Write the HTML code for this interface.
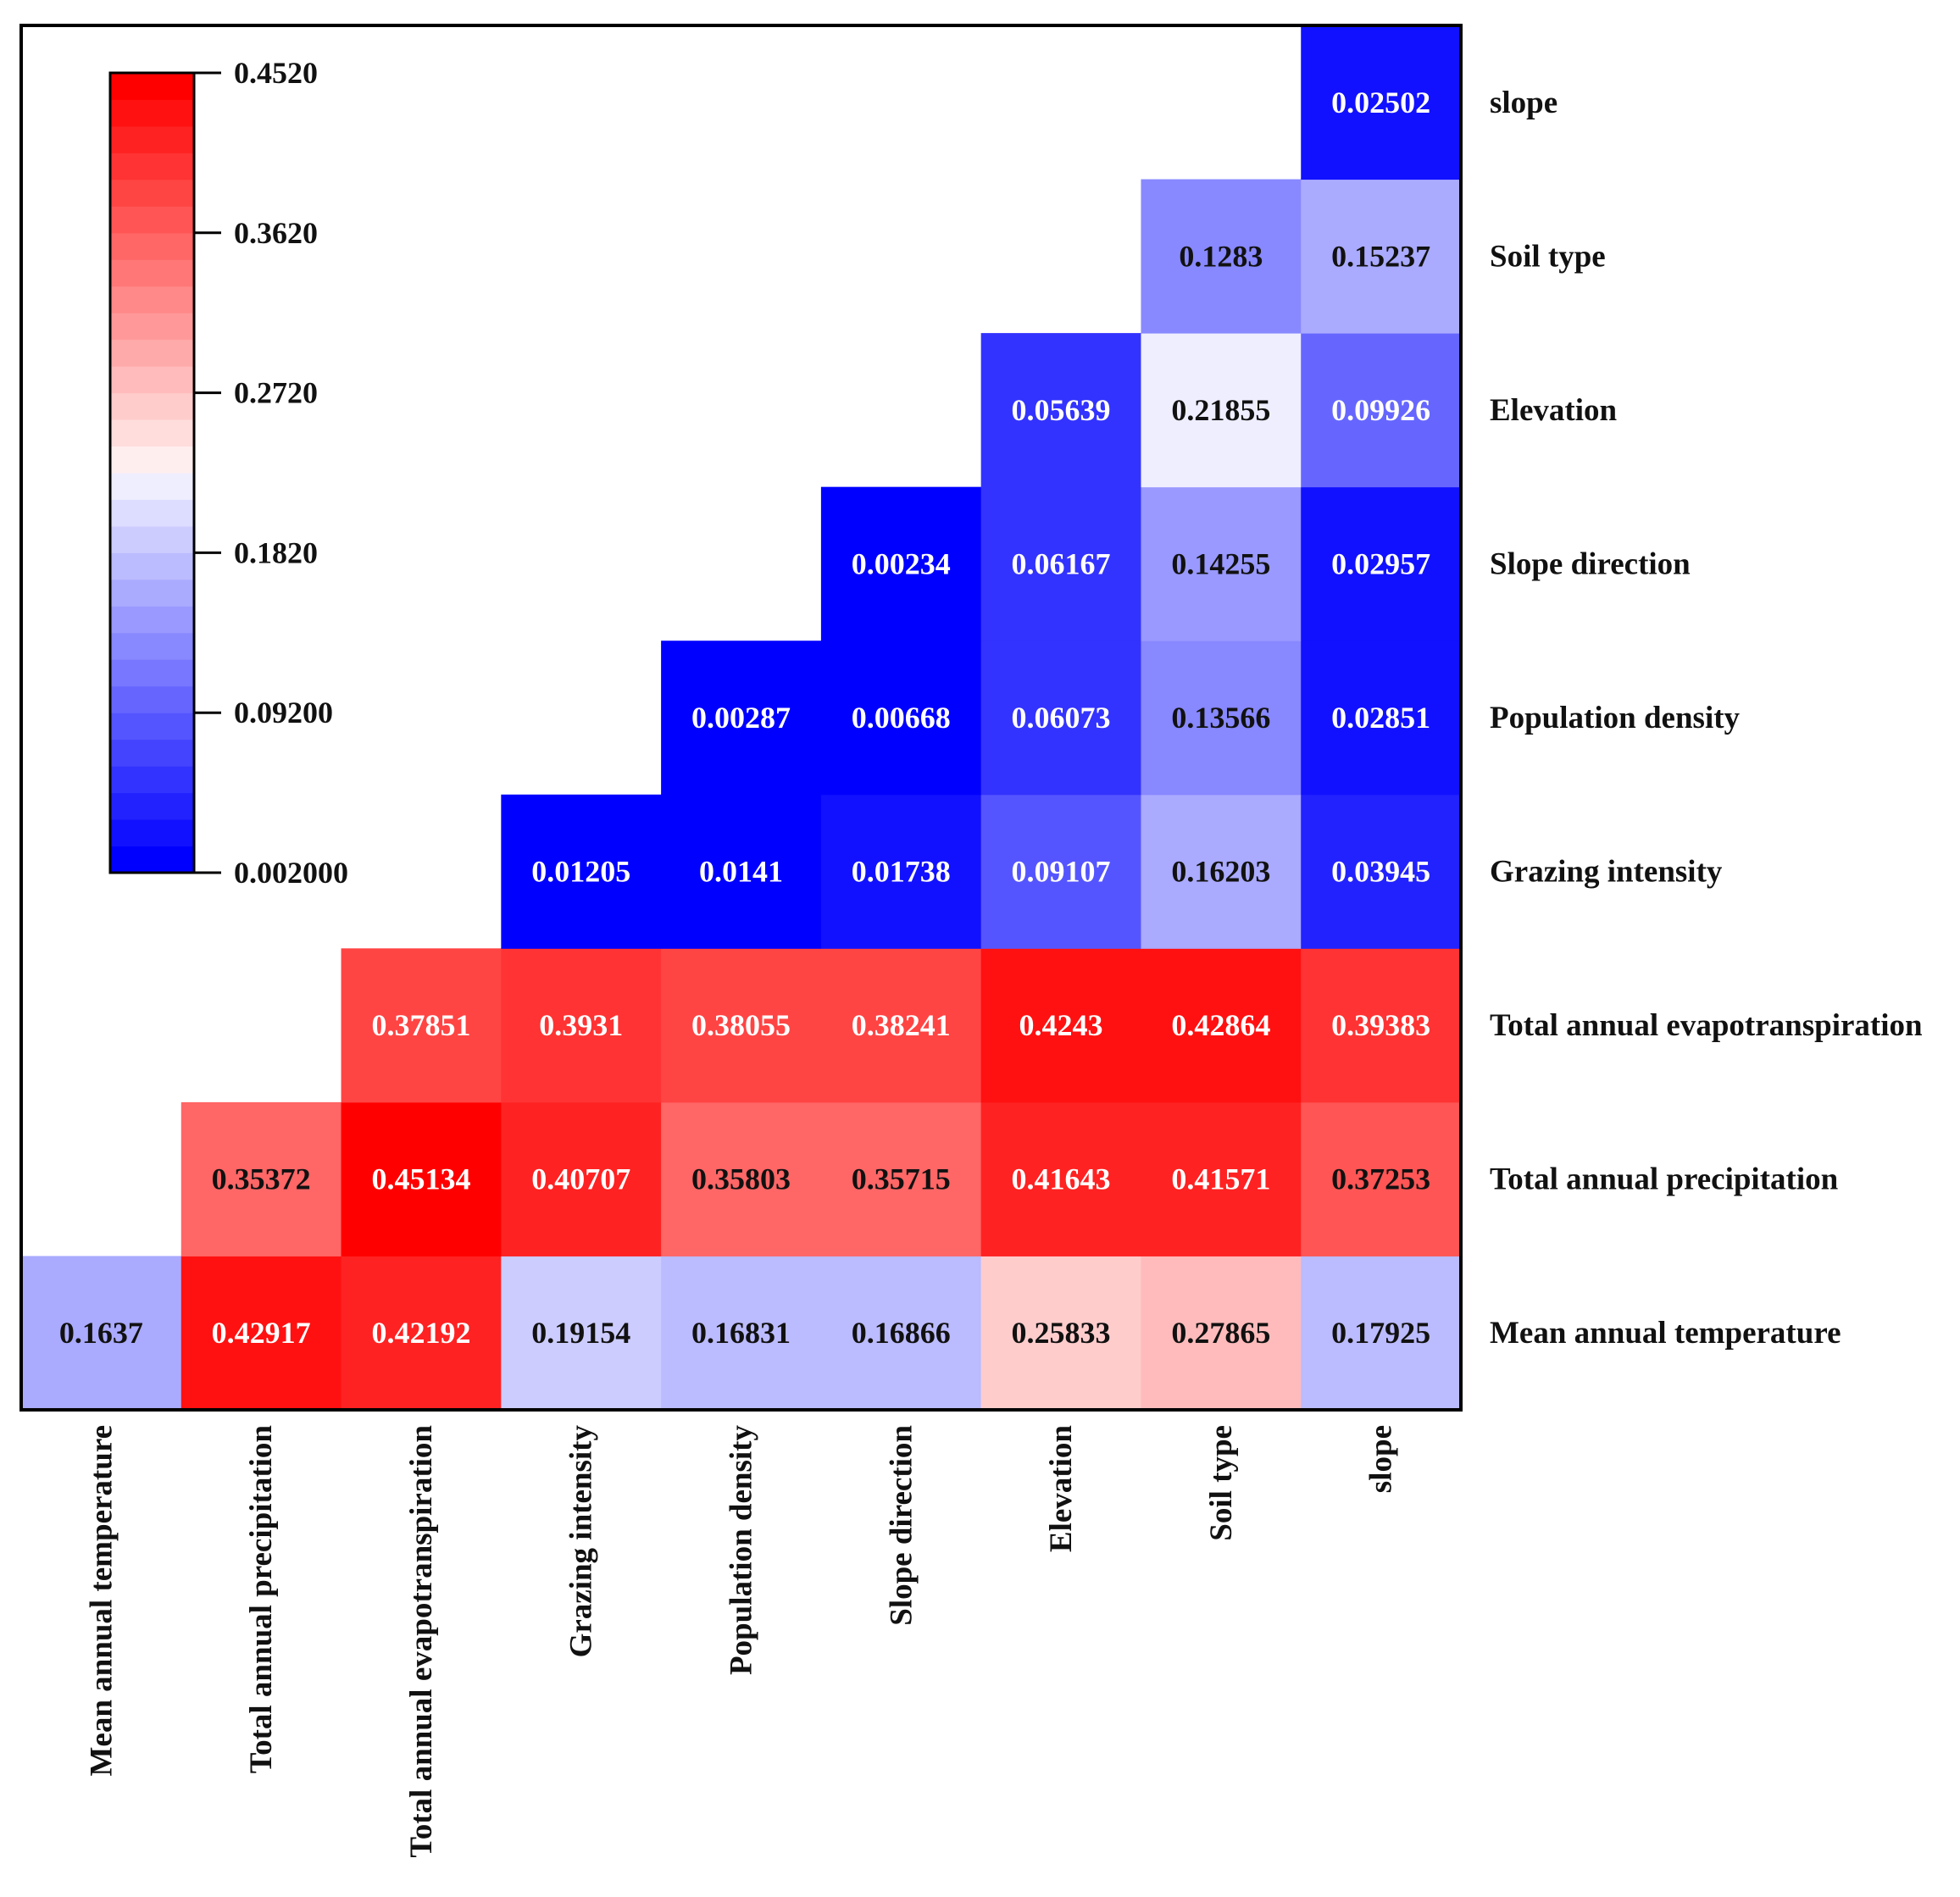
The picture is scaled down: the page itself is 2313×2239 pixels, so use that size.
<!DOCTYPE html>
<html><head><meta charset="utf-8"><style>
html,body{margin:0;padding:0;background:#fff;}
svg{display:block;font-family:"Liberation Serif",serif;font-weight:bold;}
</style></head><body>
<svg id="chart" width="2313" height="2239" viewBox="0 0 2313 2239" xmlns="http://www.w3.org/2000/svg">
<g id="cells"></g>
<g id="labels"></g>
<g id="cbar"></g>
<rect x="25" y="30" width="1699" height="1634" fill="none" stroke="#000" stroke-width="4"/>
</svg>
<script>
const variables = ["Mean annual temperature","Total annual precipitation","Total annual evapotranspiration","Grazing intensity","Population density","Slope direction","Elevation","Soil type","slope"];
const row0 = [0.1637,0.42917,0.42192,0.19154,0.16831,0.16866,0.25833,0.27865,0.17925];
const row1 = [0.35372,0.45134,0.40707,0.35803,0.35715,0.41643,0.41571,0.37253];
const row2 = [0.37851,0.3931,0.38055,0.38241,0.4243,0.42864,0.39383];
const row3 = [0.01205,0.0141,0.01738,0.09107,0.16203,0.03945];
const row4 = [0.00287,0.00668,0.06073,0.13566,0.02851];
const row5 = [0.00234,0.06167,0.14255,0.02957];
const row6 = [0.05639,0.21855,0.09926];
const row7 = [0.1283,0.15237];
const row8 = [0.02502];
const colorTicks = ["0.4520","0.3620","0.2720","0.1820","0.09200","0.002000"];
const vmin = 0.002, vmax = 0.452;

const rows = [row0,row1,row2,row3,row4,row5,row6,row7,row8];
const NS = "http://www.w3.org/2000/svg";
const X0 = 25, Y0 = 30, W = 1699, H = 1634, n = variables.length;
const cw = W / n, ch = H / n;
const xPos = j => X0 + j * cw;
const yPos = r => Y0 + (n - 1 - r) * ch;

function color(v){
  const nb = 30, step = (vmax - vmin) / nb;
  let b = Math.floor((v - vmin) / step); b = Math.max(0, Math.min(nb - 1, b));
  const mid = (vmin + vmax) / 2;
  let r, g, bl;
  if (b < nb / 2) { const c = vmin + b * step; const t = (c - vmin) / (mid - vmin); r = g = Math.round(255 * t); bl = 255; }
  else { const c = vmin + (b + 1) * step; const t = (c - mid) / (vmax - mid); r = 255; g = bl = Math.round(255 * (1 - t)); }
  return `rgb(${r},${g},${bl})`;
}
function mk(tag, attrs, parent){
  const e = document.createElementNS(NS, tag);
  for (const k in attrs) e.setAttribute(k, attrs[k]);
  parent.appendChild(e); return e;
}
const gc = document.getElementById("cells");
rows.forEach((vals, r) => {
  vals.forEach((v, k) => {
    const j = r + k;
    const rect = mk("rect", {x: xPos(j), y: yPos(r), width: cw + 0.5, height: ch + 0.5, fill: color(v)}, gc);
    
    
    const white = v < 0.11 || v >= 0.375;
    const t = mk("text", {x: xPos(j) + cw / 2, y: yPos(r) + ch / 2 + 12, "text-anchor": "middle", "font-size": 36, fill: white ? "#fff" : "#111"}, gc);
    t.textContent = String(v);
    
    
  });
});
const gl = document.getElementById("labels");
variables.forEach((name, i) => {
  const t = mk("text", {x: 1758, y: yPos(i) + ch / 2 + 12, "font-size": 37, fill: "#111"}, gl);
  t.textContent = name;
  
  
  const cx = xPos(i) + cw / 2 + 12, cy = 1682;
  const c = mk("text", {x: cx, y: cy, "font-size": 37, fill: "#111", "text-anchor": "end", transform: `rotate(-90 ${cx} ${cy})`}, gl);
  c.textContent = name;
  
  
});
const gb = document.getElementById("cbar");
const cbX = 130, cbW = 99, cbTop = 86, cbBot = 1030, nb = 30;
for (let b = 0; b < nb; b++) {
  const v = vmin + (b + 0.5) * (vmax - vmin) / nb;
  const hh = (cbBot - cbTop) / nb;
  const r = mk("rect", {x: cbX, y: cbBot - (b + 1) * hh, width: cbW, height: hh + 0.5, fill: color(v)}, gb);
  
  
}
const fr = mk("rect", {x: cbX, y: cbTop, width: cbW, height: cbBot - cbTop, fill: "none", stroke: "#000", "stroke-width": 3}, gb);


colorTicks.forEach((lab, i) => {
  const y = cbTop + i * (cbBot - cbTop) / (colorTicks.length - 1);
  const l = mk("line", {x1: cbX + cbW, x2: cbX + cbW + 32, y1: y, y2: y, stroke: "#000", "stroke-width": 3}, gb);
  
  
  const t = mk("text", {x: 276, y: y + 12, "font-size": 36, fill: "#111"}, gb);
  t.textContent = lab;
  
  
});
</script>
</body></html>
